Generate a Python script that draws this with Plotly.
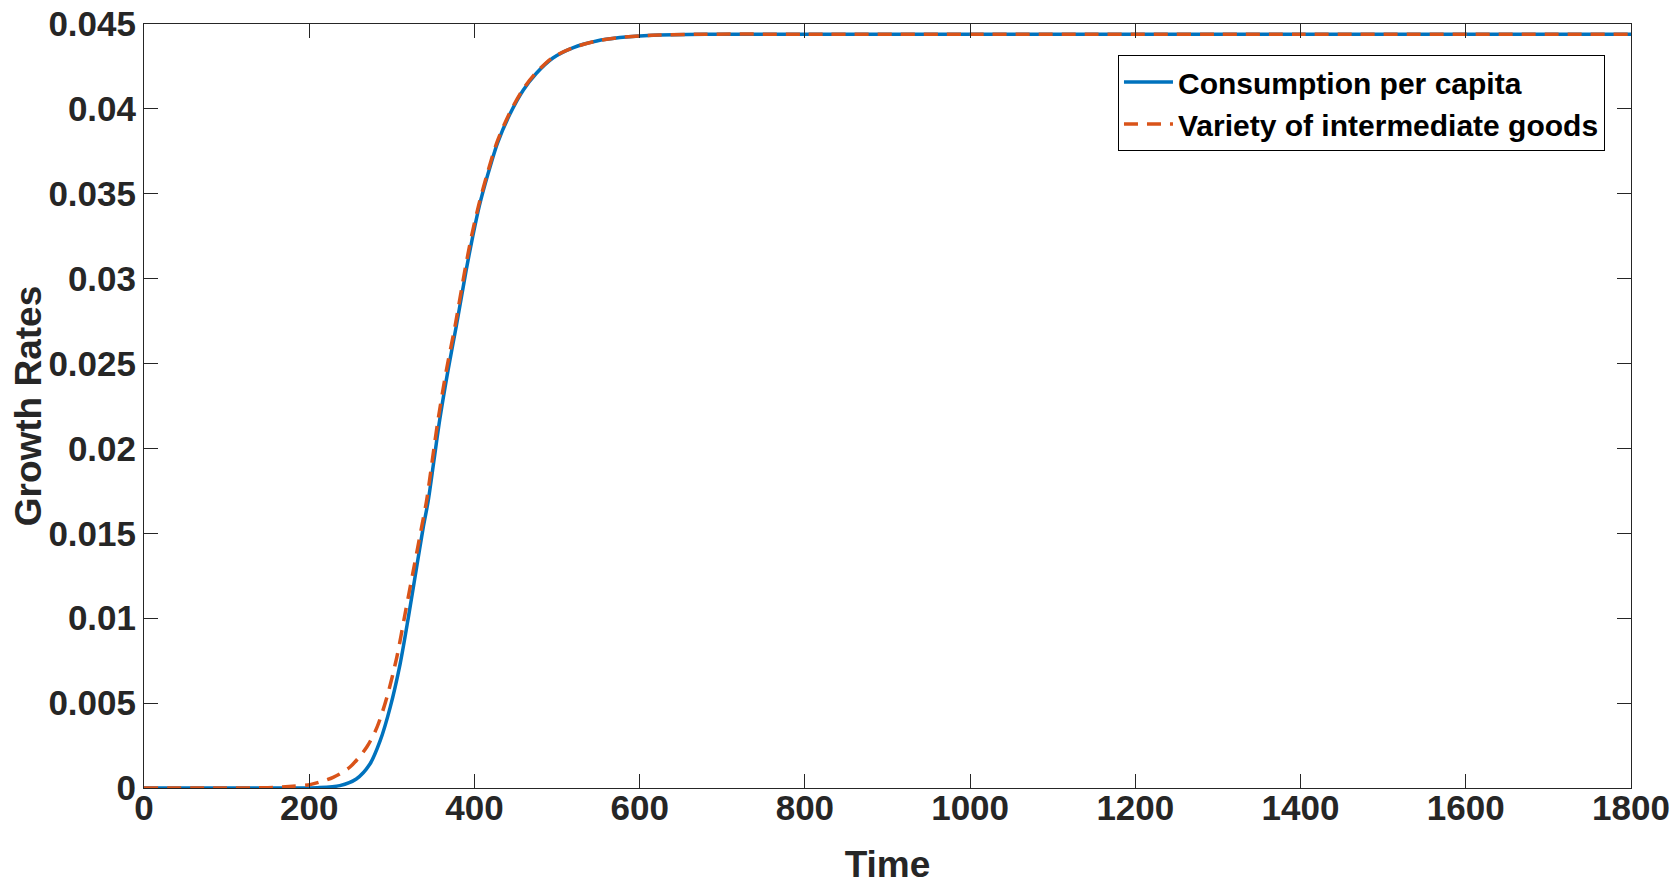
import plotly.graph_objects as go

# ─── Data ────────────────────────────────────────────────────────────────────
time_consumption = [0, 100, 180, 210, 237, 257, 273.5, 286, 298, 310, 320, 330,
                    338, 344, 351, 358, 368, 378, 390, 398, 406, 416, 428, 443,
                    459, 475, 495, 519, 548, 576, 600, 624, 680, 800, 1000,
                    1400, 1800]
growth_consumption = [0, 0, 0, 0.00002, 0.00014, 0.00053, 0.00141, 0.0028,
                      0.00475, 0.0073, 0.01005, 0.0130, 0.01535, 0.0169, 0.0193,
                      0.0217, 0.0246, 0.0272, 0.0305, 0.0325, 0.0343, 0.0361,
                      0.0380, 0.0397, 0.0411, 0.0421, 0.0430, 0.0436, 0.0440,
                      0.0442, 0.0443, 0.04435, 0.0444, 0.0444, 0.0444, 0.0444,
                      0.0444]

time_variety = [0, 100, 150, 180, 201, 229, 249, 269.5, 282, 294, 306, 316, 326,
                336, 342, 349, 356, 366, 376.5, 388.5, 396.5, 405, 415, 427, 442,
                458, 474, 494, 519, 548, 576, 600, 624, 680, 800, 1000, 1400,
                1800]
growth_variety = [0, 0, 0.00002, 0.0001, 0.0002, 0.00063, 0.00122, 0.0024,
                  0.00357, 0.00534, 0.0077, 0.01025, 0.0128, 0.01535, 0.0169,
                  0.0193, 0.0217, 0.0246, 0.0272, 0.0305, 0.0325, 0.0343, 0.0361,
                  0.0380, 0.0397, 0.0411, 0.0421, 0.0430, 0.0436, 0.0440, 0.0442,
                  0.0443, 0.04435, 0.0444, 0.0444, 0.0444, 0.0444, 0.0444]

x_ticks = [0, 200, 400, 600, 800, 1000, 1200, 1400, 1600, 1800]
y_ticks = [0, 0.005, 0.01, 0.015, 0.02, 0.025, 0.03, 0.035, 0.04, 0.045]
y_tick_text = ["0", "0.005", "0.01", "0.015", "0.02", "0.025", "0.03",
               "0.035", "0.04", "0.045"]

BLUE = "#0072BD"
ORANGE = "#D95319"
FONT = "Arial, Liberation Sans, Helvetica, sans-serif"
AXIS_COL = "#262626"

fig = go.Figure()
fig.add_trace(go.Scatter(
    x=time_consumption, y=growth_consumption,
    mode="lines", name="Consumption per capita",
    line=dict(color=BLUE, width=3.5, shape="spline", smoothing=0.8),
))
fig.add_trace(go.Scatter(
    x=time_variety, y=growth_variety,
    mode="lines", name="Variety of intermediate goods",
    line=dict(color=ORANGE, width=3.5, dash="14px,9px", shape="spline", smoothing=0.8),
))

axis_common = dict(
    showgrid=False, zeroline=False, automargin=False,
    showline=True, mirror="ticks", linecolor=AXIS_COL, linewidth=1,
    ticks="inside", ticklen=14, tickwidth=1, tickcolor=AXIS_COL,
    ticklabeloverflow="allow",
    tickfont=dict(family=FONT, size=35, color=AXIS_COL, weight="bold"),
)

# the page body adds an 8px offset, margins below account for it
fig.update_layout(
    width=1678, height=892,
    paper_bgcolor="white", plot_bgcolor="white",
    margin=dict(l=136, r=55, t=16, b=112),
    font=dict(family=FONT, color=AXIS_COL),
    xaxis=dict(
        range=[0, 1800], tickvals=x_ticks, ticklabelstandoff=-11,
        title=dict(text="Time", font=dict(family=FONT, size=37, color=AXIS_COL, weight="bold"),
                   standoff=25),
        **axis_common,
    ),
    yaxis=dict(
        range=[0, 0.045], tickvals=y_ticks, ticktext=y_tick_text,
        title=dict(text="Growth Rates", font=dict(family=FONT, size=37, color=AXIS_COL, weight="bold"),
                   standoff=9),
        **axis_common,
    ),
    legend=dict(
        x=0.9825, y=0.9594, xanchor="right", yanchor="top",
        bgcolor="white", bordercolor="black", borderwidth=1,
        font=dict(family=FONT, size=30, color="black", weight="bold"),
        itemwidth=49, tracegroupgap=0,
    ),
    showlegend=True,
)

fig.write_html("out.html")
